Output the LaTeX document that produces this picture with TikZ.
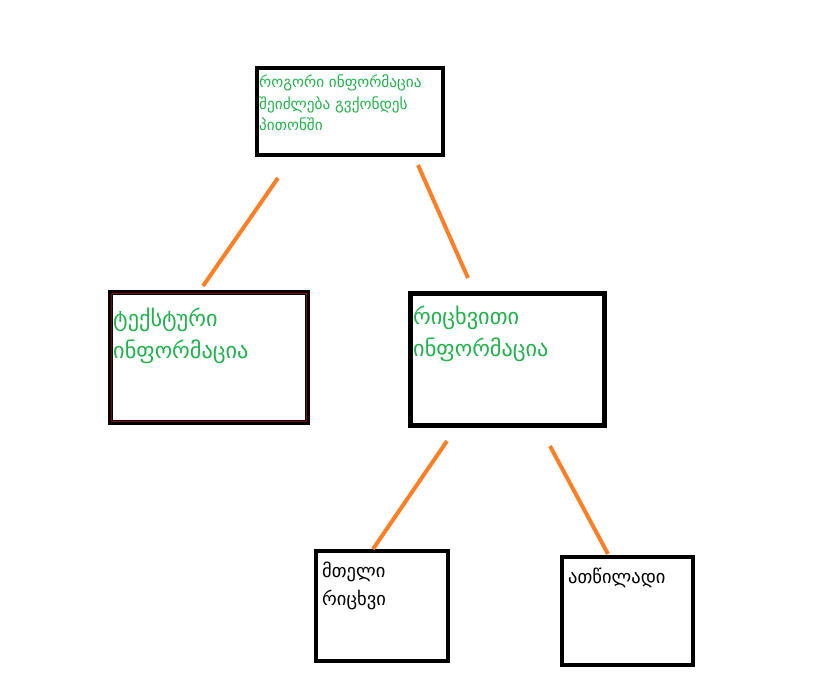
\documentclass[tikz,border=0pt]{standalone}
\usepackage{fontspec}
\usepackage{xcolor}
\newfontfamily\geofont{DejaVu Sans}
\definecolor{paintgreen}{HTML}{22B14C}
\definecolor{paintorange}{HTML}{FF7F27}
\definecolor{paintred}{HTML}{880015}

\begin{document}
\begin{tikzpicture}[x=0.03cm, y=-0.03cm,
    box/.style={draw, rectangle, inner sep=0pt},
    txt/.style={anchor=north west, inner sep=0pt, align=left},
    link/.style={draw=paintorange, line width=3.4pt}]
    \useasboundingbox (0,0) rectangle (823,690);

    % boxes
    \node[box, line width=3.4pt, minimum width=5.58cm, minimum height=2.61cm]  (Q)  at (350.0, 111.5) {};
    \node[box, line width=4.2pt, minimum width=5.91cm, minimum height=3.90cm]  (TI) at (209.0, 357.5) {};
    \node[box, line width=4.2pt, minimum width=5.82cm, minimum height=3.96cm]  (NI) at (507.5, 359.5) {};
    \node[box, line width=3.4pt, minimum width=3.96cm, minimum height=3.30cm]  (WN) at (382.0, 606.0) {};
    \node[box, line width=3.4pt, minimum width=3.93cm, minimum height=3.24cm]  (FN) at (627.5, 611.0) {};
    \draw[paintred, line width=0.8pt] ([shift={(3.6,3.6)}]TI.north west) rectangle ([shift={(-3.6,-3.6)}]TI.south east);

    % texts
    \node[txt, text=paintgreen, font=\geofont\fontsize{13}{18.3}\selectfont] (Qt)  at (259, 75)
        {როგორი ინფორმაცია\\შეიძლება გვქონდეს\\პითონში};
    \node[txt, text=paintgreen, font=\geofont\fontsize{19}{27.5}\selectfont]   (TIt) at (113, 308)
        {ტექსტური\\ინფორმაცია};
    \node[txt, text=paintgreen, font=\geofont\fontsize{19}{27.5}\selectfont]   (NIt) at (413, 306)
        {რიცხვითი\\ინფორმაცია};
    \node[txt, font=\geofont\fontsize{15.8}{24}\selectfont] (WNt) at (322, 562) {მთელი\\რიცხვი};
    \node[txt, font=\geofont\fontsize{15.8}{24}\selectfont] (FNt) at (568, 568) {ათწილადი};

    % links
    \coordinate (q1) at (278, 178);  \coordinate (t1) at (203, 286);
    \coordinate (q2) at (418, 165);  \coordinate (n1) at (468, 278);
    \coordinate (n2) at (447, 441);  \coordinate (w1) at (373, 549);
    \coordinate (n3) at (550, 446);  \coordinate (f1) at (608, 554);

    \draw[link] (q1) -- (t1);
    \draw[link] (q2) -- (n1);
    \draw[link] (n2) -- (w1);
    \draw[link] (n3) -- (f1);
\end{tikzpicture}
\end{document}
